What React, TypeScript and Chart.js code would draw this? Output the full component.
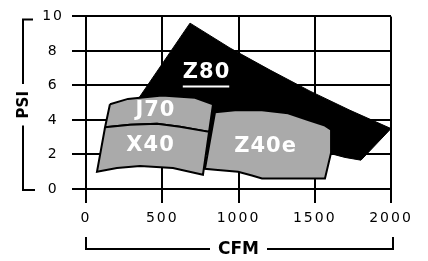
import React, { useEffect, useRef } from "react";
import { Chart, registerables } from "chart.js";

Chart.register(...registerables);

// Axis ticks
const xTicks = [0, 500, 1000, 1500, 2000];
const yTicks = [0, 2, 4, 6, 8, 10];

// Operating envelopes (CFM, PSI)
const z80X = [682, 944, 1207, 1469, 1731, 2000, 1803, 1698, 1600, 1403, 879, 748, 190, 321, 682];
const z80Y = [9.61, 8.17, 6.89, 5.67, 4.56, 3.5, 1.67, 1.83, 2.06, 2.17, 2.17, 2.17, 3.28, 4.94, 9.61];

const j70X = [157, 275, 498, 715, 833, 807, 616, 466, 289, 125, 157];
const j70Y = [4.91, 5.22, 5.41, 5.28, 4.91, 3.31, 3.61, 3.78, 3.72, 3.58, 4.91];

const x40X = [125, 289, 466, 616, 807, 767, 570, 354, 203, 72, 125];
const x40Y = [3.58, 3.72, 3.78, 3.61, 3.31, 0.83, 1.22, 1.33, 1.22, 1.0, 3.58];

const z40eX = [846, 977, 1154, 1325, 1456, 1567, 1607, 1607, 1567, 1154, 1088, 997, 846, 780, 846];
const z40eY = [4.44, 4.56, 4.56, 4.39, 4.0, 3.67, 3.44, 2.1, 0.61, 0.61, 0.78, 1.0, 1.11, 1.17, 4.44];

// Region labels
const labelNames = ["Z80", "J70", "X40", "Z40e"];
const labelX = [787, 452, 420, 1174];
const labelY = [6.75, 4.53, 2.53, 2.44];

const xTitle = "CFM";
const yTitle = "PSI";

const pts = (xs: number[], ys: number[]) => xs.map((x, i) => ({ x, y: ys[i] }));

export default function App() {
  const ref = useRef<HTMLCanvasElement>(null);

  useEffect(() => {
    document.body.style.margin = "0";
    const canvas = ref.current!;

    const spacing = {
      id: "spacing",
      beforeUpdate(c: any) {
        c.ctx.letterSpacing = "2px";
      },
      beforeDraw(c: any) {
        c.ctx.letterSpacing = "2px";
      },
    };

    const deco = {
      id: "deco",
      afterDatasetsDraw(c: any) {
        const ctx = c.ctx;
        const xs = c.scales.x;
        const ys = c.scales.y;
        ctx.save();
        ctx.fillStyle = "#ffffff";
        ctx.strokeStyle = "#ffffff";
        ctx.font = "bold 21px 'DejaVu Sans'";
        ctx.letterSpacing = "1px";
        ctx.textAlign = "center";
        ctx.textBaseline = "middle";
        labelNames.forEach((name, i) => {
          const px = xs.getPixelForValue(labelX[i]) + 0.5;
          const py = ys.getPixelForValue(labelY[i]);
          ctx.fillText(name, px, py);
          if (i === 0) {
            const w = ctx.measureText(name).width - 1;
            ctx.lineWidth = 2;
            ctx.beginPath();
            ctx.moveTo(px - w / 2 - 0.5, py + 14);
            ctx.lineTo(px + w / 2 - 0.5, py + 14);
            ctx.stroke();
          }
        });
        ctx.restore();
      },
      afterDraw(c: any) {
        const ctx = c.ctx;
        const xs = c.scales.x;
        const ys = c.scales.y;
        const left = xs.getPixelForValue(0);
        const right = xs.getPixelForValue(2000);
        const top = ys.getPixelForValue(10);
        const bottom = ys.getPixelForValue(0);
        ctx.save();
        ctx.letterSpacing = "0px";
        ctx.strokeStyle = "#000";
        ctx.fillStyle = "#000";
        ctx.lineWidth = 2;

        // Y title bracket
        const bx = 23;
        const bTop = top + 3;
        const bBot = bottom + 1;
        const cy = (bTop + bBot) / 2;
        ctx.font = "bold 15px 'DejaVu Sans'";
        const tw = ctx.measureText(yTitle).width;
        const gap = tw / 2 + 7;
        ctx.beginPath();
        ctx.moveTo(bx + 10, bTop);
        ctx.lineTo(bx, bTop);
        ctx.lineTo(bx, cy - gap);
        ctx.moveTo(bx, cy + gap);
        ctx.lineTo(bx, bBot);
        ctx.lineTo(bx + 12, bBot);
        ctx.stroke();
        ctx.save();
        ctx.translate(bx, cy);
        ctx.rotate(-Math.PI / 2);
        ctx.textAlign = "center";
        ctx.textBaseline = "middle";
        ctx.fillText(yTitle, 0, 1);
        ctx.restore();

        // X title bracket
        const by = 249;
        const cx = (left + right) / 2;
        ctx.font = "bold 17px 'DejaVu Sans'";
        const tw2 = ctx.measureText(xTitle).width;
        const gap2 = tw2 / 2 + 8;
        ctx.beginPath();
        ctx.moveTo(left, by - 12);
        ctx.lineTo(left, by);
        ctx.lineTo(cx - gap2, by);
        ctx.moveTo(cx + gap2, by);
        ctx.lineTo(right + 2, by);
        ctx.lineTo(right + 2, by - 12);
        ctx.stroke();
        ctx.textAlign = "center";
        ctx.textBaseline = "middle";
        ctx.fillText(xTitle, cx, by + 1);
        ctx.restore();
      },
    };

    const gray = "#aaaaaa";
    const chart = new Chart(canvas, {
      type: "line",
      data: {
        datasets: [
          { label: "Z40e", data: pts(z40eX, z40eY), backgroundColor: gray, borderColor: "#000", borderWidth: 2, fill: "shape", order: 1 },
          { label: "X40", data: pts(x40X, x40Y), backgroundColor: gray, borderColor: "#000", borderWidth: 2, fill: "shape", order: 2 },
          { label: "J70", data: pts(j70X, j70Y), backgroundColor: gray, borderColor: "#000", borderWidth: 2, fill: "shape", order: 3 },
          { label: "Z80", data: pts(z80X, z80Y), backgroundColor: "#000", borderColor: "#000", borderWidth: 1, fill: "shape", order: 4 },
        ] as any,
      },
      options: {
        animation: false,
        responsive: true,
        maintainAspectRatio: false,
        parsing: false as any,
        elements: { point: { radius: 0 }, line: { tension: 0 } },
        layout: { padding: { top: 9, right: 37, left: 0, bottom: 0 } },
        plugins: { legend: { display: false }, tooltip: { enabled: false } },
        scales: {
          x: {
            type: "linear",
            min: 0,
            max: 2000,
            afterBuildTicks: (s: any) => {
              s.ticks = xTicks.map((v) => ({ value: v }));
            },
            afterFit: (s: any) => {
              s.height = 72;
            },
            grid: { color: "#000", lineWidth: 2, tickLength: 14, tickColor: "#000" },
            border: { display: true, color: "#000", width: 2 },
            ticks: {
              color: "#000",
              font: { family: "'DejaVu Sans'", size: 14 },
              padding: 7,
              maxRotation: 0,
              autoSkip: false,
              callback: (v: any) => String(v),
            },
          },
          y: {
            type: "linear",
            min: 0,
            max: 10,
            afterBuildTicks: (s: any) => {
              s.ticks = yTicks.map((v) => ({ value: v }));
            },
            afterFit: (s: any) => {
              s.width = 86;
            },
            grid: { color: "#000", lineWidth: 2, tickLength: 14, tickColor: "#000" },
            border: { display: true, color: "#000", width: 2 },
            ticks: {
              color: "#000",
              font: { family: "'DejaVu Sans'", size: 14 },
              padding: 8,
              crossAlign: "center",
              autoSkip: false,
              callback: (v: any) => String(v),
            },
          },
        },
      },
      plugins: [spacing, deco],
    });
    return () => chart.destroy();
  }, []);

  return (
    <div style={{ position: "relative", width: 428, height: 261 }}>
      <canvas ref={ref} />
    </div>
  );
}
